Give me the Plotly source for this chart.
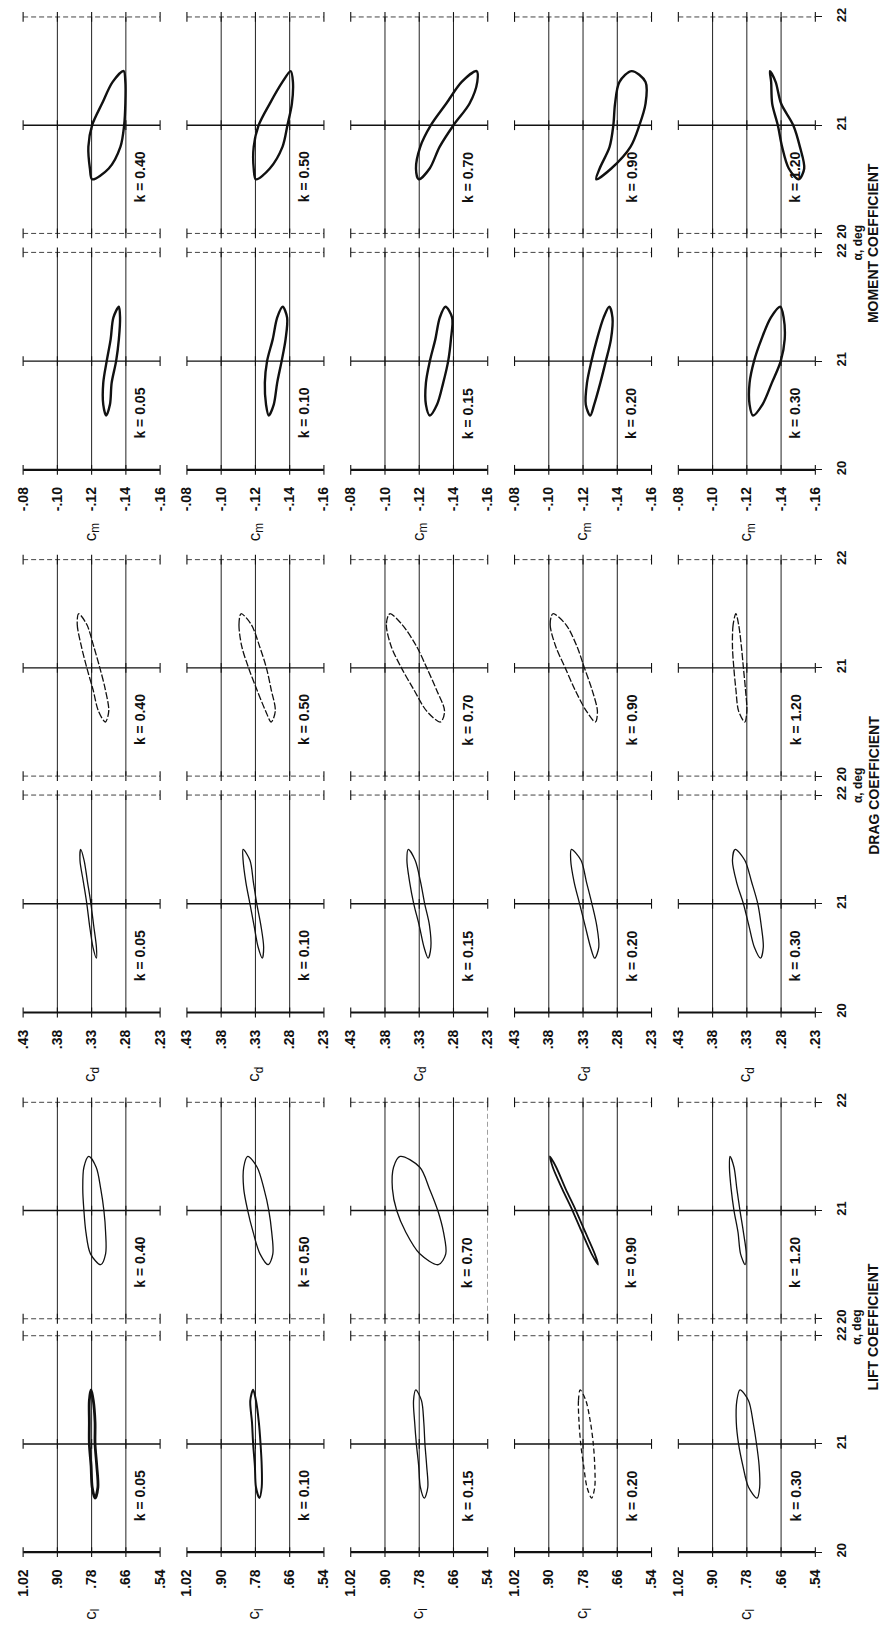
import plotly.graph_objects as go

# ---------------- data ----------------
ALPHA_LINES = [20, 21, 22]
ALPHA_LABELS = ["20", "21", "22"]
# alpha levels at which every loop was read: top, down one branch, bottom, up the other branch, top
LOOP_ALPHA = [21.5, 21.4, 21.2, 21.0, 20.8, 20.6, 20.5, 20.6, 20.8, 21.0, 21.2, 21.4, 21.5]

K_HIGH = ["0.40", "0.50", "0.70", "0.90", "1.20"]
K_LOW = ["0.05", "0.10", "0.15", "0.20", "0.30"]

CL_TICKS = [1.02, 0.90, 0.78, 0.66, 0.54]
CL_LABELS = ["1.02", ".90", ".78", ".66", ".54"]
CD_TICKS = [0.43, 0.38, 0.33, 0.28, 0.23]
CD_LABELS = [".43", ".38", ".33", ".28", ".23"]
CM_TICKS = [-0.08, -0.10, -0.12, -0.14, -0.16]
CM_LABELS = ["-.08", "-.10", "-.12", "-.14", "-.16"]

# moment coefficient loops
CM_K040 = [-0.1387, -0.1323, -0.1261, -0.1203, -0.1181, -0.1190, -0.1203, -0.1300, -0.1368, -0.1390, -0.1397, -0.1397, -0.1387]
CM_K050 = [-0.1406, -0.1358, -0.1284, -0.1219, -0.1190, -0.1190, -0.1203, -0.1284, -0.1358, -0.1387, -0.1413, -0.1419, -0.1406]
CM_K070 = [-0.1535, -0.1448, -0.1358, -0.1268, -0.1206, -0.1181, -0.1197, -0.1261, -0.1319, -0.1400, -0.1494, -0.1539, -0.1535]
CM_K090 = [-0.1484, -0.1413, -0.1387, -0.1377, -0.1355, -0.1297, -0.1277, -0.1365, -0.1477, -0.1529, -0.1565, -0.1565, -0.1484]
CM_K120 = [-0.1335, -0.1342, -0.1348, -0.1381, -0.1406, -0.1445, -0.1503, -0.1535, -0.1510, -0.1471, -0.1400, -0.1368, -0.1335]
CM_K005 = [-0.1359, -0.1327, -0.1311, -0.1288, -0.1268, -0.1268, -0.1285, -0.1307, -0.1317, -0.1343, -0.1359, -0.1366, -0.1359]
CM_K010 = [-0.1359, -0.1327, -0.1301, -0.1268, -0.1255, -0.1262, -0.1278, -0.1307, -0.1327, -0.1353, -0.1376, -0.1385, -0.1359]
CM_K015 = [-0.1353, -0.1320, -0.1294, -0.1262, -0.1239, -0.1239, -0.1262, -0.1304, -0.1340, -0.1369, -0.1385, -0.1392, -0.1353]
CM_K020 = [-0.1353, -0.1320, -0.1281, -0.1249, -0.1223, -0.1216, -0.1242, -0.1265, -0.1301, -0.1333, -0.1363, -0.1372, -0.1353]
CM_K030 = [-0.1395, -0.1340, -0.1285, -0.1242, -0.1216, -0.1216, -0.1236, -0.1291, -0.1346, -0.1398, -0.1421, -0.1415, -0.1395]

# drag coefficient loops
CD_K040 = [0.349, 0.351, 0.345, 0.337, 0.328, 0.320, 0.310, 0.305, 0.310, 0.318, 0.327, 0.337, 0.349]
CD_K050 = [0.351, 0.354, 0.350, 0.340, 0.328, 0.315, 0.307, 0.301, 0.307, 0.314, 0.324, 0.336, 0.351]
CD_K070 = [0.373, 0.378, 0.371, 0.356, 0.338, 0.319, 0.299, 0.293, 0.305, 0.319, 0.334, 0.355, 0.373]
CD_K090 = [0.374, 0.378, 0.370, 0.356, 0.342, 0.325, 0.312, 0.309, 0.317, 0.328, 0.339, 0.355, 0.374]
CD_K120 = [0.346, 0.350, 0.351, 0.349, 0.346, 0.342, 0.333, 0.330, 0.332, 0.335, 0.338, 0.342, 0.346]
CD_K005 = [0.346, 0.347, 0.342, 0.337, 0.333, 0.328, 0.323, 0.323, 0.327, 0.331, 0.336, 0.341, 0.346]
CD_K010 = [0.348, 0.348, 0.344, 0.338, 0.332, 0.326, 0.320, 0.318, 0.322, 0.328, 0.333, 0.338, 0.348]
CD_K015 = [0.346, 0.348, 0.344, 0.338, 0.330, 0.323, 0.317, 0.313, 0.315, 0.322, 0.328, 0.336, 0.346]
CD_K020 = [0.347, 0.348, 0.343, 0.335, 0.327, 0.319, 0.313, 0.307, 0.310, 0.317, 0.325, 0.333, 0.347]
CD_K030 = [0.347, 0.351, 0.345, 0.335, 0.327, 0.319, 0.310, 0.306, 0.309, 0.314, 0.323, 0.333, 0.347]

# lift coefficient loops
CL_K040 = [0.790, 0.807, 0.811, 0.807, 0.800, 0.784, 0.748, 0.731, 0.731, 0.737, 0.748, 0.764, 0.790]
CL_K050 = [0.807, 0.821, 0.821, 0.807, 0.788, 0.764, 0.735, 0.719, 0.723, 0.733, 0.750, 0.774, 0.807]
CL_K070 = [0.847, 0.870, 0.874, 0.859, 0.827, 0.778, 0.713, 0.687, 0.695, 0.715, 0.744, 0.778, 0.847]
CL_K090 = [0.896, 0.886, 0.853, 0.817, 0.784, 0.750, 0.727, 0.739, 0.772, 0.805, 0.841, 0.874, 0.896]
CL_K120 = [0.839, 0.841, 0.835, 0.825, 0.811, 0.802, 0.786, 0.782, 0.792, 0.804, 0.815, 0.825, 0.839]
CL_K005 = [0.782, 0.788, 0.788, 0.788, 0.782, 0.778, 0.768, 0.758, 0.762, 0.768, 0.768, 0.774, 0.782]
CL_K010 = [0.788, 0.798, 0.792, 0.788, 0.782, 0.778, 0.766, 0.758, 0.758, 0.762, 0.768, 0.778, 0.788]
CL_K015 = [0.792, 0.800, 0.796, 0.790, 0.782, 0.776, 0.762, 0.750, 0.754, 0.760, 0.764, 0.772, 0.792]
CL_K020 = [0.790, 0.796, 0.794, 0.788, 0.778, 0.766, 0.750, 0.739, 0.739, 0.744, 0.754, 0.770, 0.790]
CL_K030 = [0.804, 0.815, 0.817, 0.809, 0.794, 0.774, 0.744, 0.735, 0.737, 0.746, 0.758, 0.774, 0.804]

# ---------------- figure construction ----------------
W, H = 891, 1632
FONT = "Liberation Sans"
INK = "#111111"
COL_X0 = [15.4 + 166.8 * j for j in range(5)]
COL_W = 139.5
PAD = 0.05  # alpha-units of padding so edge lines are not clipped

GROUPS = [
    dict(title="MOMENT COEFFICIENT", clab="c<sub>m</sub>", ticks=CM_TICKS, labels=CM_LABELS,
         loops=[[CM_K040, CM_K050, CM_K070, CM_K090, CM_K120], [CM_K005, CM_K010, CM_K015, CM_K020, CM_K030]],
         rows=[(13, 230), (249, 467)], width=2.4, dashA=None),
    dict(title="DRAG COEFFICIENT", clab="c<sub>d</sub>", ticks=CD_TICKS, labels=CD_LABELS,
         loops=[[CD_K040, CD_K050, CD_K070, CD_K090, CD_K120], [CD_K005, CD_K010, CD_K015, CD_K020, CD_K030]],
         rows=[(557, 774), (793, 1011)], width=1.3, dashA="7px,2px"),
    dict(title="LIFT COEFFICIENT", clab="c<sub>l</sub>", ticks=CL_TICKS, labels=CL_LABELS,
         loops=[[CL_K040, CL_K050, CL_K070, CL_K090, CL_K120], [CL_K005, CL_K010, CL_K015, CL_K020, CL_K030]],
         rows=[(1101, 1318), (1335, 1552)], width=1.3, dashA=None),
]
K_ROWS = [K_HIGH, K_LOW]


def yp(px):
    return 1 - px / H


fig = go.Figure()
annotations = []
layout_axes = {}
n = 0
for g, grp in enumerate(GROUPS):
    ticks, labels = grp["ticks"], grp["labels"]
    for r in range(2):
        top, bot = grp["rows"][r]
        ppu = (bot - top) / 2.0
        ydom = [yp(bot + PAD * ppu), yp(top - PAD * ppu)]
        for j in range(5):
            n += 1
            xr, yr = f"x{n}", f"y{n}"
            layout_axes[f"xaxis{n}"] = dict(
                domain=[COL_X0[j] / W, (COL_X0[j] + COL_W) / W],
                range=[ticks[0], ticks[-1]], anchor=yr,
                showgrid=False, zeroline=False, showline=False, fixedrange=True,
                tickmode="array", tickvals=ticks, ticktext=labels,
                showticklabels=(r == 1), tickangle=-90, ticks="",
                ticklabelstandoff=8,
                tickfont=dict(family=FONT, size=14, color=INK, weight="bold"),
            )
            layout_axes[f"yaxis{n}"] = dict(
                domain=ydom, range=[ALPHA_LINES[0] - PAD, ALPHA_LINES[-1] + PAD], anchor=xr,
                side="right", showgrid=False, zeroline=False, showline=False, fixedrange=True,
                tickmode="array", tickvals=ALPHA_LINES, ticktext=ALPHA_LABELS,
                showticklabels=(j == 4), tickangle=-90,
                ticks="outside" if j == 4 else "", ticklen=6, tickcolor=INK, tickwidth=1.2,
                ticklabelstandoff=8,
                tickfont=dict(family=FONT, size=13, color=INK, weight="bold"),
            )
            # horizontal alpha lines
            for a in ALPHA_LINES:
                if a == ALPHA_LINES[1]:
                    st = dict(width=1.4, color=INK)
                elif a == ALPHA_LINES[0] and r == 1:
                    st = dict(width=2.2, color=INK)
                else:
                    st = dict(width=1.0, color="#444444", dash="5px,3px")
                fig.add_trace(go.Scatter(x=[ticks[0], ticks[-1]], y=[a, a], mode="lines",
                                         line=st, xaxis=xr, yaxis=yr, hoverinfo="skip"))
            # interior vertical grid lines
            vx, vy = [], []
            for t in ticks[1:-1]:
                vx += [t, t, None]
                vy += [ALPHA_LINES[0], ALPHA_LINES[-1], None]
            fig.add_trace(go.Scatter(x=vx, y=vy, mode="lines", line=dict(width=1.0, color="#222222"),
                                     xaxis=xr, yaxis=yr, hoverinfo="skip"))
            # faint dashed right border seen on the lift k = 0.70 panel
            if g == 2 and r == 0 and j == 2:
                fig.add_trace(go.Scatter(x=[ticks[-1], ticks[-1]], y=[ALPHA_LINES[0], ALPHA_LINES[-1]],
                                         mode="lines", line=dict(width=1.0, color="#555555", dash="5px,3px"),
                                         xaxis=xr, yaxis=yr, hoverinfo="skip"))
            # small tick crosses on alpha lines
            mx, my = [], []
            for a in ALPHA_LINES:
                for t in ticks:
                    mx.append(t)
                    my.append(a)
            fig.add_trace(go.Scatter(x=mx, y=my, mode="markers", cliponaxis=False,
                                     marker=dict(symbol="line-ns", size=7, line=dict(width=1.1, color=INK)),
                                     xaxis=xr, yaxis=yr, hoverinfo="skip"))
            # loop
            dash = grp["dashA"] if r == 0 else None
            if g == 2 and r == 1 and j == 3:
                dash = "5px,3px"
            lw = grp["width"]
            if g == 2 and r == 1 and j == 0:
                lw = 2.8
            if g == 2 and r == 1 and j == 1:
                lw = 2.0
            if g == 2 and r == 0 and j == 3:
                lw = 1.8
            fig.add_trace(go.Scatter(x=grp["loops"][r][j], y=LOOP_ALPHA, mode="lines",
                                     line=dict(shape="spline", smoothing=0.9, width=lw, color=INK, dash=dash),
                                     xaxis=xr, yaxis=yr, hoverinfo="skip"))
            # k label
            annotations.append(dict(
                x=ticks[0] + 0.855 * (ticks[-1] - ticks[0]), y=20.52, xref=xr, yref=yr,
                xanchor="center", yanchor="middle",
                text=f"k = {K_ROWS[r][j]}", textangle=-90, showarrow=False,
                font=dict(family=FONT, size=14, color=INK, weight="bold")))
            # coefficient symbol below the bottom row of each group
            if r == 1:
                annotations.append(dict(
                    x=ticks[2], y=yp(bot + 62), xref=xr, yref="paper",
                    xanchor="center", yanchor="middle",
                    text=grp["clab"], textangle=-90, showarrow=False,
                    font=dict(family=FONT, size=17, color=INK)))
    junction = (grp["rows"][0][1] + grp["rows"][1][0]) / 2.0
    annotations.append(dict(x=865 / W, y=yp(junction), xref="paper", yref="paper",
                            xanchor="center", yanchor="middle",
                            text="α, deg", textangle=-90, showarrow=False,
                            font=dict(family=FONT, size=12, color=INK, weight="bold")))
    annotations.append(dict(x=881 / W, y=yp(junction), xref="paper", yref="paper",
                            xanchor="center", yanchor="middle",
                            text=grp["title"], textangle=-90, showarrow=False,
                            font=dict(family=FONT, size=14, color=INK, weight="bold")))

fig.update_layout(**layout_axes)
fig.update_layout(
    width=W, height=H, margin=dict(l=0, r=0, t=0, b=0),
    paper_bgcolor="white", plot_bgcolor="white", showlegend=False,
    annotations=annotations,
)
fig.write_html("out.html")
